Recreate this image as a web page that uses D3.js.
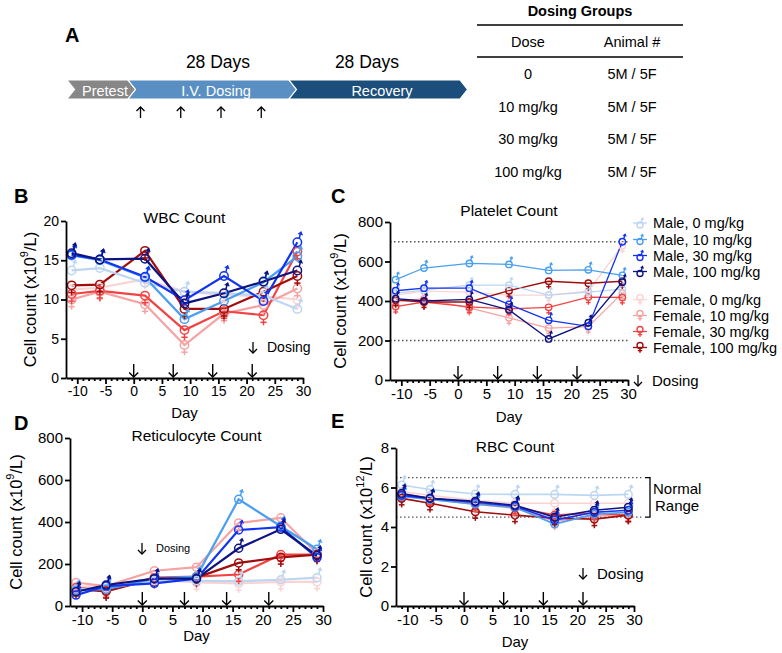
<!DOCTYPE html>
<html>
<head>
<meta charset="UTF-8">
<title>Hematology panels</title>
<script src="https://cdn.jsdelivr.net/npm/d3@7"></script>
<style>
body { margin:0; background:white; }
text { font-family: "Liberation Sans", Arial, sans-serif; }
</style>
</head>
<body>
<script>
// sampling days and dosing days
var days = [-11, -6, 2, 9, 16, 23, 29];
var doseDays = [0, 7, 14, 21];
var majorDays = [-10, -5, 0, 5, 10, 15, 20, 25, 30];

var groupNames = ["Male, 0 mg/kg", "Male, 10 mg/kg", "Male, 30 mg/kg", "Male, 100 mg/kg",
                  "Female, 0 mg/kg", "Female, 10 mg/kg", "Female, 30 mg/kg", "Female, 100 mg/kg"];
var groupSex = ["M", "M", "M", "M", "F", "F", "F", "F"];
var groupColors = ["#bcd6f2", "#4a9ff0", "#1133f2", "#0d1380",
                   "#fcd3d3", "#f6a2a2", "#f04444", "#a00d0d"];

// one row per group, same order as groupNames
var wbc = [
  [13.7, 14.0, 12.1, 11.0, 10.8, 10.5, 8.8],
  [15.6, 15.0, 12.8, 7.5, 9.8, 12.2, 15.5],
  [15.7, 15.1, 12.9, 9.9, 13.0, 9.8, 17.3],
  [15.9, 15.1, 15.2, 9.5, 10.8, 12.3, 13.7],
  [11.3, 11.5, 12.6, 11.0, 10.6, 10.4, 10.0],
  [10.0, 11.0, 9.4, 4.2, 8.2, 9.3, 11.4],
  [10.7, 11.1, 10.5, 6.1, 8.5, 8.0, 16.1],
  [11.8, 11.9, 16.2, 8.8, 8.8, 11.0, 13.0]
];
var platelet = [
  [440, 455, 480, 480, 430, 445, 460],
  [508, 567, 590, 585, 555, 558, 530],
  [452, 465, 465, 383, 302, 272, 700],
  [412, 400, 408, 355, 208, 290, 495],
  [430, 450, 445, 430, 430, 450, 680],
  [400, 410, 365, 315, 263, 270, 440],
  [372, 395, 370, 360, 368, 420, 418],
  [405, 395, 395, 452, 500, 490, 500]
];
var retic = [
  [80, 85, 120, 120, 118, 125, 135],
  [75, 80, 130, 140, 508, 380, 270],
  [52, 95, 108, 130, 362, 375, 230],
  [68, 100, 130, 130, 275, 365, 240],
  [90, 100, 125, 112, 108, 115, 115],
  [112, 95, 168, 185, 395, 420, 250],
  [88, 75, 135, 140, 150, 245, 245],
  [80, 70, 130, 135, 205, 232, 245]
];
var rbc = [
  [6.13, 5.9, 5.67, 5.65, 5.65, 5.6, 5.65],
  [5.55, 5.4, 5.15, 5.0, 4.15, 4.65, 4.75],
  [5.6, 5.45, 5.25, 5.05, 4.35, 4.75, 4.85],
  [5.7, 5.45, 5.3, 5.1, 4.5, 4.85, 5.0],
  [5.8, 5.6, 5.35, 5.2, 5.2, 5.2, 5.2],
  [5.6, 5.4, 5.15, 4.95, 4.3, 4.55, 4.65],
  [5.65, 5.45, 5.2, 5.0, 4.6, 4.7, 4.6],
  [5.45, 5.2, 4.77, 4.6, 4.44, 4.4, 4.6]
];

var doseTable = ["0", "10 mg/kg", "30 mg/kg", "100 mg/kg"];
var animalTable = ["5M / 5F", "5M / 5F", "5M / 5F", "5M / 5F"];

var svg = d3.select("body").append("svg")
  .attr("width", 782).attr("height", 653)
  .style("background", "white");

function marker(g, sex, color, r, sw) {
  g.append("circle").attr("r", r).attr("fill", "none")
    .attr("stroke", color).attr("stroke-width", sw);
  if (sex == "M") {
    var x0 = r * 0.45, y0 = -r * 0.9, x1 = r * 0.8, y1 = -r * 2.3;
    g.append("line").attr("x1", x0).attr("y1", y0).attr("x2", x1).attr("y2", y1)
      .attr("stroke", color).attr("stroke-width", sw);
    g.append("path")
      .attr("d", "M" + (x1 - r * 0.75) + "," + (y1 + r * 0.35) + "L" + (x1 + r * 0.15) + "," + (y1 - r * 0.35) +
                 "L" + (x1 + r * 0.55) + "," + (y1 + r * 0.7) + "Z")
      .attr("fill", color);
  } else {
    g.append("line").attr("x1", 0).attr("y1", r).attr("x2", 0).attr("y2", r * 2.4)
      .attr("stroke", color).attr("stroke-width", sw);
    g.append("line").attr("x1", -r * 0.75).attr("y1", r * 1.7).attr("x2", r * 0.75).attr("y2", r * 1.7)
      .attr("stroke", color).attr("stroke-width", sw);
  }
}

function downArrow(g, x, y, h, w, sw) {
  // arrow tip at (x,y)
  g.append("line").attr("x1", x).attr("y1", y - h).attr("x2", x).attr("y2", y)
    .attr("stroke", "black").attr("stroke-width", sw);
  g.append("path").attr("d", "M" + (x - w) + "," + (y - w) + "L" + x + "," + y + "L" + (x + w) + "," + (y - w))
    .attr("fill", "none").attr("stroke", "black").attr("stroke-width", sw);
}

function panel(p) {
  var g = svg.append("g");
  var x = d3.scaleLinear().domain([-12, 30]).range([p.x0, p.x1]);
  var y = d3.scaleLinear().domain([0, p.ymax]).range([p.y0, p.y1]);

  // reference lines
  (p.refs || []).forEach(function(v) {
    g.append("line").attr("x1", x(-12)).attr("x2", x(p.refEnd || 30))
      .attr("y1", y(v)).attr("y2", y(v))
      .attr("stroke", "#555").attr("stroke-width", 1.3).attr("stroke-dasharray", "1.5,2.5");
  });

  // series (females first so males sit on top)
  var order = [4, 5, 6, 7, 0, 1, 2, 3];
  var line = d3.line().x(function(d, i) { return x(days[i]); }).y(function(d) { return y(d); });
  order.forEach(function(k) {
    g.append("path").datum(p.data[k]).attr("d", line)
      .attr("fill", "none").attr("stroke", groupColors[k]).attr("stroke-width", p.lw);
  });
  order.forEach(function(k) {
    p.data[k].forEach(function(v, i) {
      var m = g.append("g").attr("transform", "translate(" + x(days[i]) + "," + y(v) + ")");
      marker(m, groupSex[k], groupColors[k], p.r, p.msw);
    });
  });

  // axes
  var ya = g.append("g").attr("transform", "translate(" + p.x0 + ",0)")
    .call(d3.axisLeft(y).tickValues(p.yticks).tickSize(5).tickSizeOuter(0).tickPadding(2));
  var xa = g.append("g").attr("transform", "translate(0," + p.y0 + ")")
    .call(d3.axisBottom(x).tickValues(majorDays).tickSize(6).tickSizeOuter(0).tickPadding(2));
  var xm = g.append("g").attr("transform", "translate(0," + p.y0 + ")")
    .call(d3.axisBottom(x).tickValues(d3.range(-11, 31).filter(function(d) { return d % 5 != 0; }))
      .tickSize(3).tickSizeOuter(0).tickFormat(""));
  xm.select(".domain").remove();
  [ya, xa, xm].forEach(function(a) {
    a.selectAll("path,line").attr("stroke", "black").attr("stroke-width", 1.8);
    a.selectAll("text").attr("fill", "black").style("font-size", p.fs + "px")
      .style("font-family", "Liberation Sans, Arial, sans-serif");
  });
  xa.selectAll("text").text(function(d) { return d < 0 ? "-" + (-d) : d; });

  doseDays.forEach(function(d) { downArrow(g, x(d), p.y0 - 1, 13, 4.5, 1.4); });

  // titles
  g.append("text").attr("x", (p.x0 + p.x1) / 2).attr("y", p.titleY).attr("text-anchor", "middle")
    .style("font-size", "15.5px").text(p.title);
  g.append("text").attr("x", (p.x0 + p.x1) / 2).attr("y", p.dayY).attr("text-anchor", "middle")
    .attr("dominant-baseline", "central").style("font-size", "15px").text("Day");
  var yl = g.append("text").attr("transform", "translate(" + p.ylx + "," + ((p.y0 + p.y1) / 2) + ") rotate(-90)")
    .attr("text-anchor", "middle").attr("dominant-baseline", "central").style("font-size", "16.5px");
  yl.append("tspan").text("Cell count (x10");
  yl.append("tspan").attr("dy", -6).style("font-size", "11px").text(p.exp);
  yl.append("tspan").attr("dy", 6).text("/L)");
  g.append("text").attr("x", p.lx).attr("y", p.ly).style("font-size", "20px").style("font-weight", "bold").text(p.letter);

  if (p.dose) {
    downArrow(g, p.dose[0], p.dose[1] + 6, 11, 4, 1.3);
    g.append("text").attr("x", p.dose[0] + 14).attr("y", p.dose[1]).attr("dominant-baseline", "central")
      .style("font-size", p.dose[2] + "px").text("Dosing");
  }
  return {x: x, y: y, g: g};
}

panel({letter: "B", lx: 14, ly: 203, title: "WBC Count", titleY: 223, dayY: 412, ylx: 30, exp: "9",
  x0: 66, x1: 303, y0: 378, y1: 221, ymax: 20, yticks: [0, 5, 10, 15, 20], data: wbc,
  lw: 2.2, r: 4.2, msw: 1.5, fs: 14, dose: [253, 347, 14]});

panel({letter: "C", lx: 331, ly: 203, title: "Platelet Count", titleY: 216, dayY: 416, ylx: 340, exp: "9",
  x0: 390, x1: 628, y0: 380, y1: 222, ymax: 800, yticks: [0, 200, 400, 600, 800], data: platelet,
  refs: [200, 700], lw: 1.3, r: 3.2, msw: 1.4, fs: 15});

panel({letter: "D", lx: 14, ly: 430, title: "Reticulocyte Count", titleY: 441, dayY: 635, ylx: 16, exp: "9",
  x0: 70, x1: 323, y0: 606, y1: 438, ymax: 800, yticks: [0, 200, 400, 600, 800], data: retic,
  lw: 2.2, r: 4, msw: 1.5, fs: 15, dose: [142, 548, 11]});

var e = panel({letter: "E", lx: 331, ly: 428, title: "RBC Count", titleY: 452, dayY: 641, ylx: 366, exp: "12",
  x0: 396, x1: 634, y0: 606, y1: 448, ymax: 8, yticks: [0, 2, 4, 6, 8], data: rbc,
  refs: [4.5, 6.5], refEnd: 31.3, lw: 1.6, r: 3.8, msw: 1.5, fs: 15, dose: [583, 573, 15]});

// normal range bracket on E
e.g.append("path").attr("d", "M645," + e.y(6.5) + "H650V" + e.y(4.5) + "H645")
  .attr("fill", "none").attr("stroke", "black").attr("stroke-width", 1.3);
e.g.append("text").attr("x", 653).attr("y", 488).attr("dominant-baseline", "central").style("font-size", "15px").text("Normal");
e.g.append("text").attr("x", 655).attr("y", 505).attr("dominant-baseline", "central").style("font-size", "15px").text("Range");

// legend beside C
var legY = [223, 239.5, 255.5, 271.5, 299.5, 315.5, 331.5, 347.5];
var leg = svg.append("g");
groupNames.forEach(function(n, k) {
  leg.append("line").attr("x1", 633).attr("x2", 647).attr("y1", legY[k]).attr("y2", legY[k])
    .attr("stroke", groupColors[k]).attr("stroke-width", 1.3);
  var m = leg.append("g").attr("transform", "translate(640," + (legY[k] + (groupSex[k] == "M" ? 2 : -2)) + ")");
  marker(m, groupSex[k], groupColors[k], 3, 1.4);
  leg.append("text").attr("x", 653).attr("y", legY[k]).attr("dominant-baseline", "central")
    .style("font-size", "14.5px").text(n);
});
downArrow(leg, 638, 386, 11, 4, 1.3);
leg.append("text").attr("x", 652).attr("y", 380).attr("dominant-baseline", "central").style("font-size", "15px").text("Dosing");

// panel A: study timeline
var a = svg.append("g");
a.append("text").attr("x", 65).attr("y", 42).style("font-size", "20px").style("font-weight", "bold").text("A");
var phases = [
  {name: "Pretest", x0: 67, x1: 128, color: "#878787"},
  {name: "I.V. Dosing", x0: 128, x1: 289, color: "#5a8fc3"},
  {name: "Recovery", x0: 289, x1: 460, color: "#1b4e7b"}
];
var barTop = 80, barBot = 99, barMid = (barTop + barBot) / 2, tip = 7.5;
phases.forEach(function(ph) {
  a.append("path")
    .attr("d", "M" + ph.x0 + "," + barTop + "H" + ph.x1 + "L" + (ph.x1 + tip) + "," + barMid + "L" + ph.x1 + "," + barBot +
               "H" + ph.x0 + "L" + (ph.x0 + tip) + "," + barMid + "Z")
    .attr("fill", ph.color).attr("stroke", "white").attr("stroke-width", 1.2);
  a.append("text").attr("x", (ph.x0 + ph.x1) / 2 + tip).attr("y", barMid + 1)
    .attr("text-anchor", "middle").attr("dominant-baseline", "central")
    .attr("fill", "white").style("font-size", "14.5px").text(ph.name);
});
a.append("text").attr("x", 218).attr("y", 62).attr("text-anchor", "middle").attr("dominant-baseline", "central")
  .style("font-size", "17.5px").text("28 Days");
a.append("text").attr("x", 367).attr("y", 62).attr("text-anchor", "middle").attr("dominant-baseline", "central")
  .style("font-size", "17.5px").text("28 Days");
var tx = d3.scaleLinear().domain([0, 28]).range([135, 296]);
doseDays.forEach(function(d) {
  var xx = tx(d) + 5.5;
  a.append("line").attr("x1", xx).attr("x2", xx).attr("y1", 107).attr("y2", 118)
    .attr("stroke", "black").attr("stroke-width", 1.3);
  a.append("path").attr("d", "M" + (xx - 4) + ",111L" + xx + ",107L" + (xx + 4) + ",111")
    .attr("fill", "none").attr("stroke", "black").attr("stroke-width", 1.3);
});

// dosing groups table
var t = svg.append("g");
t.append("text").attr("x", 580).attr("y", 11).attr("text-anchor", "middle").attr("dominant-baseline", "central")
  .style("font-size", "14.5px").style("font-weight", "bold").text("Dosing Groups");
[25, 57].forEach(function(yy) {
  t.append("line").attr("x1", 477).attr("x2", 683).attr("y1", yy).attr("y2", yy)
    .attr("stroke", "black").attr("stroke-width", 1.5);
});
t.append("text").attr("x", 528).attr("y", 42).attr("text-anchor", "middle").attr("dominant-baseline", "central")
  .style("font-size", "14.5px").text("Dose");
t.append("text").attr("x", 632).attr("y", 42).attr("text-anchor", "middle").attr("dominant-baseline", "central")
  .style("font-size", "14.5px").text("Animal #");
var rowY = d3.scaleLinear().domain([0, 3]).range([74, 172]);
doseTable.forEach(function(d, i) {
  t.append("text").attr("x", 528).attr("y", rowY(i)).attr("text-anchor", "middle").attr("dominant-baseline", "central")
    .style("font-size", "14.5px").text(d);
  t.append("text").attr("x", 632).attr("y", rowY(i)).attr("text-anchor", "middle").attr("dominant-baseline", "central")
    .style("font-size", "14.5px").text(animalTable[i]);
});
</script>
</body>
</html>
